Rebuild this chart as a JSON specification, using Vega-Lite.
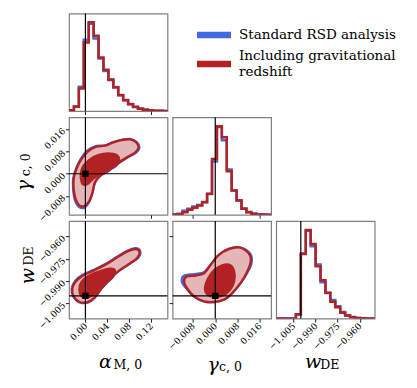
{
"$schema":"https://vega.github.io/schema/vega-lite/v6.json",
"background":"white",
"padding":{"left":13,"top":11.5,"right":5,"bottom":5},
"config":{
 "font":"DejaVu Serif",
 "view":{"stroke":"#808080","strokeWidth":1.2},
 "axis":{"labelFont":"DejaVu Serif","labelFontSize":9,"labelColor":"black","tickColor":"#222","tickSize":3.5,"tickWidth":1,"domain":false,"grid":false,"labelAngle":-45,"labelAlign":"right","labelBaseline":"middle","labelOverlap":false,"labelFlush":false,"titleFont":"DejaVu Serif","titleFontWeight":"normal","titleColor":"black","titleFontSize":19}
},
"datasets":{
 "legA":[{"s":"Standard RSD analysis"}],
 "legB":[{"s":"Including gravitational redshift"}],
 "tr":[{"a":0,"g":0,"w":-1}],
 "h1":[
  {"s":"b","i":0,"x":-0.030,"h":0},{"s":"b","i":1,"x":-0.030,"h":0.8},{"s":"b","i":2,"x":-0.021,"h":5.5},{"s":"b","i":3,"x":-0.012,"h":27.5},{"s":"b","i":4,"x":-0.003,"h":80.4},{"s":"b","i":5,"x":0.006,"h":98.5},{"s":"b","i":6,"x":0.015,"h":81.9},{"s":"b","i":7,"x":0.024,"h":59.2},{"s":"b","i":8,"x":0.033,"h":45.0},{"s":"b","i":9,"x":0.042,"h":35.8},{"s":"b","i":10,"x":0.051,"h":27.0},{"s":"b","i":11,"x":0.060,"h":18.0},{"s":"b","i":12,"x":0.069,"h":12.5},{"s":"b","i":13,"x":0.078,"h":8.0},{"s":"b","i":14,"x":0.087,"h":4.8},{"s":"b","i":15,"x":0.096,"h":2.8},{"s":"b","i":16,"x":0.105,"h":1.6},{"s":"b","i":17,"x":0.114,"h":0.9},{"s":"b","i":18,"x":0.123,"h":0.4},{"s":"b","i":19,"x":0.132,"h":0.2},{"s":"b","i":20,"x":0.141,"h":0.1},{"s":"b","i":21,"x":0.150,"h":0},
  {"s":"r","i":0,"x":-0.030,"h":0},{"s":"r","i":1,"x":-0.030,"h":0.8},{"s":"r","i":2,"x":-0.021,"h":4.9},{"s":"r","i":3,"x":-0.012,"h":25.3},{"s":"r","i":4,"x":-0.003,"h":77.4},{"s":"r","i":5,"x":0.006,"h":100},{"s":"r","i":6,"x":0.015,"h":84.9},{"s":"r","i":7,"x":0.024,"h":60.4},{"s":"r","i":8,"x":0.033,"h":46.4},{"s":"r","i":9,"x":0.042,"h":35.1},{"s":"r","i":10,"x":0.051,"h":26.4},{"s":"r","i":11,"x":0.060,"h":17.7},{"s":"r","i":12,"x":0.069,"h":12.1},{"s":"r","i":13,"x":0.078,"h":7.5},{"s":"r","i":14,"x":0.087,"h":4.5},{"s":"r","i":15,"x":0.096,"h":2.6},{"s":"r","i":16,"x":0.105,"h":1.5},{"s":"r","i":17,"x":0.114,"h":0.8},{"s":"r","i":18,"x":0.123,"h":0.4},{"s":"r","i":19,"x":0.132,"h":0.2},{"s":"r","i":20,"x":0.141,"h":0.1},{"s":"r","i":21,"x":0.150,"h":0}
 ],
 "h2":[
  {"s":"b","i":0,"x":-0.01533,"h":0},{"s":"b","i":1,"x":-0.01533,"h":0.4},{"s":"b","i":2,"x":-0.01356,"h":1.0},{"s":"b","i":3,"x":-0.01179,"h":4.5},{"s":"b","i":4,"x":-0.01002,"h":6.8},{"s":"b","i":5,"x":-0.00825,"h":9.5},{"s":"b","i":6,"x":-0.00648,"h":11},{"s":"b","i":7,"x":-0.00471,"h":14.5},{"s":"b","i":8,"x":-0.00294,"h":23.5},{"s":"b","i":9,"x":-0.00117,"h":60},{"s":"b","i":10,"x":0.0006,"h":99},{"s":"b","i":11,"x":0.00237,"h":84},{"s":"b","i":12,"x":0.00414,"h":51},{"s":"b","i":13,"x":0.00591,"h":27.5},{"s":"b","i":14,"x":0.00768,"h":16.5},{"s":"b","i":15,"x":0.00945,"h":7.2},{"s":"b","i":16,"x":0.01122,"h":3.2},{"s":"b","i":17,"x":0.01299,"h":1.2},{"s":"b","i":18,"x":0.01476,"h":0.5},{"s":"b","i":19,"x":0.01653,"h":0.2},{"s":"b","i":20,"x":0.0183,"h":0.1},{"s":"b","i":21,"x":0.02007,"h":0},
  {"s":"r","i":0,"x":-0.01533,"h":0},{"s":"r","i":1,"x":-0.01533,"h":0.4},{"s":"r","i":2,"x":-0.01356,"h":0.8},{"s":"r","i":3,"x":-0.01179,"h":3},{"s":"r","i":4,"x":-0.01002,"h":5.6},{"s":"r","i":5,"x":-0.00825,"h":8},{"s":"r","i":6,"x":-0.00648,"h":10.5},{"s":"r","i":7,"x":-0.00471,"h":14.3},{"s":"r","i":8,"x":-0.00294,"h":23.7},{"s":"r","i":9,"x":-0.00117,"h":63},{"s":"r","i":10,"x":0.0006,"h":100},{"s":"r","i":11,"x":0.00237,"h":87.6},{"s":"r","i":12,"x":0.00414,"h":49},{"s":"r","i":13,"x":0.00591,"h":27.4},{"s":"r","i":14,"x":0.00768,"h":16.2},{"s":"r","i":15,"x":0.00945,"h":6.8},{"s":"r","i":16,"x":0.01122,"h":3},{"s":"r","i":17,"x":0.01299,"h":1.1},{"s":"r","i":18,"x":0.01476,"h":0.4},{"s":"r","i":19,"x":0.01653,"h":0.2},{"s":"r","i":20,"x":0.0183,"h":0.1},{"s":"r","i":21,"x":0.02007,"h":0}
 ],
 "h3":[
  {"s":"b","i":0,"x":-1.0167,"h":0},{"s":"b","i":1,"x":-1.0167,"h":0},{"s":"b","i":2,"x":-1.01336,"h":0},{"s":"b","i":3,"x":-1.01002,"h":0},{"s":"b","i":4,"x":-1.00668,"h":0.2},{"s":"b","i":5,"x":-1.00334,"h":4.5},{"s":"b","i":6,"x":-1.0,"h":73.5},{"s":"b","i":7,"x":-0.99666,"h":99},{"s":"b","i":8,"x":-0.99332,"h":81.5},{"s":"b","i":9,"x":-0.98998,"h":61},{"s":"b","i":10,"x":-0.98664,"h":41},{"s":"b","i":11,"x":-0.9833,"h":29},{"s":"b","i":12,"x":-0.97996,"h":21},{"s":"b","i":13,"x":-0.97662,"h":14},{"s":"b","i":14,"x":-0.97328,"h":7.5},{"s":"b","i":15,"x":-0.96994,"h":3.8},{"s":"b","i":16,"x":-0.9666,"h":1.7},{"s":"b","i":17,"x":-0.96326,"h":0.8},{"s":"b","i":18,"x":-0.95992,"h":0.4},{"s":"b","i":19,"x":-0.95658,"h":0.2},{"s":"b","i":20,"x":-0.95324,"h":0.1},{"s":"b","i":21,"x":-0.9499,"h":0},
  {"s":"r","i":0,"x":-1.0167,"h":0},{"s":"r","i":1,"x":-1.0167,"h":0},{"s":"r","i":2,"x":-1.01336,"h":0},{"s":"r","i":3,"x":-1.01002,"h":0},{"s":"r","i":4,"x":-1.00668,"h":0.2},{"s":"r","i":5,"x":-1.00334,"h":4.9},{"s":"r","i":6,"x":-1.0,"h":73},{"s":"r","i":7,"x":-0.99666,"h":100},{"s":"r","i":8,"x":-0.99332,"h":84.3},{"s":"r","i":9,"x":-0.98998,"h":59},{"s":"r","i":10,"x":-0.98664,"h":43.3},{"s":"r","i":11,"x":-0.9833,"h":29.1},{"s":"r","i":12,"x":-0.97996,"h":19},{"s":"r","i":13,"x":-0.97662,"h":12.7},{"s":"r","i":14,"x":-0.97328,"h":6.7},{"s":"r","i":15,"x":-0.96994,"h":3.4},{"s":"r","i":16,"x":-0.9666,"h":1.5},{"s":"r","i":17,"x":-0.96326,"h":0.7},{"s":"r","i":18,"x":-0.95992,"h":0.4},{"s":"r","i":19,"x":-0.95658,"h":0.2},{"s":"r","i":20,"x":-0.95324,"h":0.1},{"s":"r","i":21,"x":-0.9499,"h":0}
 ],
 "c21":[
  {"s":"r","l":2,"i":0,"x":-0.0105,"y":-0.01146},{"s":"r","l":2,"i":1,"x":-0.0178,"y":-0.00907},{"s":"r","l":2,"i":2,"x":-0.0215,"y":-0.00549},{"s":"r","l":2,"i":3,"x":-0.0215,"y":-0.00191},{"s":"r","l":2,"i":4,"x":-0.0166,"y":0.00167},{"s":"r","l":2,"i":5,"x":-0.0074,"y":0.00525},{"s":"r","l":2,"i":6,"x":0.0049,"y":0.008},{"s":"r","l":2,"i":7,"x":0.0203,"y":0.00967},{"s":"r","l":2,"i":8,"x":0.0357,"y":0.01003},{"s":"r","l":2,"i":9,"x":0.0511,"y":0.01122},{"s":"r","l":2,"i":10,"x":0.0665,"y":0.01206},{"s":"r","l":2,"i":11,"x":0.0818,"y":0.0123},{"s":"r","l":2,"i":12,"x":0.0929,"y":0.01122},{"s":"r","l":2,"i":13,"x":0.0972,"y":0.00943},{"s":"r","l":2,"i":14,"x":0.0911,"y":0.00764},{"s":"r","l":2,"i":15,"x":0.0757,"y":0.00585},{"s":"r","l":2,"i":16,"x":0.0572,"y":0.00346},{"s":"r","l":2,"i":17,"x":0.0418,"y":0.00107},{"s":"r","l":2,"i":18,"x":0.0265,"y":-0.00072},{"s":"r","l":2,"i":19,"x":0.0172,"y":-0.0031},{"s":"r","l":2,"i":20,"x":0.0129,"y":-0.00669},{"s":"r","l":2,"i":21,"x":0.0068,"y":-0.00991},{"s":"r","l":2,"i":22,"x":-0.0012,"y":-0.01146},
  {"s":"r","l":1,"i":0,"x":-0.0074,"y":-0.0031},{"s":"r","l":1,"i":1,"x":-0.0092,"y":-0.00012},{"s":"r","l":1,"i":2,"x":-0.0043,"y":0.00287},{"s":"r","l":1,"i":3,"x":0.008,"y":0.00525},{"s":"r","l":1,"i":4,"x":0.0234,"y":0.0068},{"s":"r","l":1,"i":5,"x":0.0418,"y":0.0074},{"s":"r","l":1,"i":6,"x":0.0572,"y":0.0068},{"s":"r","l":1,"i":7,"x":0.0621,"y":0.0049},{"s":"r","l":1,"i":8,"x":0.056,"y":0.00287},{"s":"r","l":1,"i":9,"x":0.0418,"y":0.00131},{"s":"r","l":1,"i":10,"x":0.0265,"y":-0.00012},{"s":"r","l":1,"i":11,"x":0.0141,"y":-0.00191},{"s":"r","l":1,"i":12,"x":0.0049,"y":-0.0037},{"s":"r","l":1,"i":13,"x":-0.0031,"y":-0.00406},
  {"s":"b","l":2,"i":0,"x":-0.0105,"y":-0.012},{"s":"b","l":2,"i":1,"x":-0.019,"y":-0.0094},{"s":"b","l":2,"i":2,"x":-0.0222,"y":-0.0055},{"s":"b","l":2,"i":3,"x":-0.0222,"y":-0.0019},{"s":"b","l":2,"i":4,"x":-0.0172,"y":0.0017},{"s":"b","l":2,"i":5,"x":-0.008,"y":0.0054},{"s":"b","l":2,"i":6,"x":0.004,"y":0.0083},{"s":"b","l":2,"i":7,"x":0.0203,"y":0.0099},{"s":"b","l":2,"i":8,"x":0.0357,"y":0.0101},{"s":"b","l":2,"i":9,"x":0.0511,"y":0.0113},{"s":"b","l":2,"i":10,"x":0.0665,"y":0.0121},{"s":"b","l":2,"i":11,"x":0.082,"y":0.0124},{"s":"b","l":2,"i":12,"x":0.0935,"y":0.0113},{"s":"b","l":2,"i":13,"x":0.0985,"y":0.0094},{"s":"b","l":2,"i":14,"x":0.092,"y":0.0075},{"s":"b","l":2,"i":15,"x":0.076,"y":0.0058},{"s":"b","l":2,"i":16,"x":0.0575,"y":0.0034},{"s":"b","l":2,"i":17,"x":0.042,"y":0.001},{"s":"b","l":2,"i":18,"x":0.0265,"y":-0.0008},{"s":"b","l":2,"i":19,"x":0.0172,"y":-0.0032},{"s":"b","l":2,"i":20,"x":0.0125,"y":-0.0069},{"s":"b","l":2,"i":21,"x":0.006,"y":-0.0103},{"s":"b","l":2,"i":22,"x":-0.0012,"y":-0.012},
  {"s":"b","l":1,"i":0,"x":-0.008,"y":-0.0033},{"s":"b","l":1,"i":1,"x":-0.0098,"y":-0.0001},{"s":"b","l":1,"i":2,"x":-0.0047,"y":0.003},{"s":"b","l":1,"i":3,"x":0.0078,"y":0.0054},{"s":"b","l":1,"i":4,"x":0.0234,"y":0.0069},{"s":"b","l":1,"i":5,"x":0.0418,"y":0.0075},{"s":"b","l":1,"i":6,"x":0.0575,"y":0.0069},{"s":"b","l":1,"i":7,"x":0.0625,"y":0.0049},{"s":"b","l":1,"i":8,"x":0.0562,"y":0.0028},{"s":"b","l":1,"i":9,"x":0.0418,"y":0.0013},{"s":"b","l":1,"i":10,"x":0.0265,"y":-0.0001},{"s":"b","l":1,"i":11,"x":0.0141,"y":-0.002},{"s":"b","l":1,"i":12,"x":0.0049,"y":-0.0039},{"s":"b","l":1,"i":13,"x":-0.0033,"y":-0.0043}
 ],
 "c31":[
  {"s":"r","l":2,"i":0,"x":-0.0105,"y":-1.00413},{"s":"r","l":2,"i":1,"x":-0.0215,"y":-1.00035},{"s":"r","l":2,"i":2,"x":-0.024,"y":-0.99522},{"s":"r","l":2,"i":3,"x":-0.0178,"y":-0.99031},{"s":"r","l":2,"i":4,"x":-0.0043,"y":-0.9863},{"s":"r","l":2,"i":5,"x":0.0141,"y":-0.98318},{"s":"r","l":2,"i":6,"x":0.0357,"y":-0.97917},{"s":"r","l":2,"i":7,"x":0.0572,"y":-0.97427},{"s":"r","l":2,"i":8,"x":0.0757,"y":-0.97025},{"s":"r","l":2,"i":9,"x":0.091,"y":-0.96847},{"s":"r","l":2,"i":10,"x":0.099,"y":-0.97025},{"s":"r","l":2,"i":11,"x":0.0953,"y":-0.97427},{"s":"r","l":2,"i":12,"x":0.0818,"y":-0.97805},{"s":"r","l":2,"i":13,"x":0.0634,"y":-0.98251},{"s":"r","l":2,"i":14,"x":0.0449,"y":-0.98809},{"s":"r","l":2,"i":15,"x":0.0295,"y":-0.99477},{"s":"r","l":2,"i":16,"x":0.0172,"y":-1.00101},{"s":"r","l":2,"i":17,"x":0.0049,"y":-1.00413},
  {"s":"r","l":1,"i":0,"x":-0.0074,"y":-1.00035},{"s":"r","l":1,"i":1,"x":-0.0117,"y":-0.99589},{"s":"r","l":1,"i":2,"x":-0.0074,"y":-0.99031},{"s":"r","l":1,"i":3,"x":0.008,"y":-0.98586},{"s":"r","l":1,"i":4,"x":0.0265,"y":-0.98318},{"s":"r","l":1,"i":5,"x":0.0449,"y":-0.9814},{"s":"r","l":1,"i":6,"x":0.0541,"y":-0.98251},{"s":"r","l":1,"i":7,"x":0.051,"y":-0.98697},{"s":"r","l":1,"i":8,"x":0.0387,"y":-0.99143},{"s":"r","l":1,"i":9,"x":0.0265,"y":-0.99589},{"s":"r","l":1,"i":10,"x":0.0141,"y":-0.99968},{"s":"r","l":1,"i":11,"x":0.0018,"y":-1.00146},
  {"s":"b","l":2,"i":0,"x":-0.0105,"y":-1.0043},{"s":"b","l":2,"i":1,"x":-0.0222,"y":-1.00035},{"s":"b","l":2,"i":2,"x":-0.0248,"y":-0.99522},{"s":"b","l":2,"i":3,"x":-0.0185,"y":-0.9899},{"s":"b","l":2,"i":4,"x":-0.0048,"y":-0.9858},{"s":"b","l":2,"i":5,"x":0.0141,"y":-0.9828},{"s":"b","l":2,"i":6,"x":0.0357,"y":-0.9789},{"s":"b","l":2,"i":7,"x":0.0572,"y":-0.974},{"s":"b","l":2,"i":8,"x":0.0757,"y":-0.9699},{"s":"b","l":2,"i":9,"x":0.0915,"y":-0.968},{"s":"b","l":2,"i":10,"x":0.1,"y":-0.97},{"s":"b","l":2,"i":11,"x":0.096,"y":-0.9744},{"s":"b","l":2,"i":12,"x":0.0818,"y":-0.97805},{"s":"b","l":2,"i":13,"x":0.0634,"y":-0.98251},{"s":"b","l":2,"i":14,"x":0.0449,"y":-0.98809},{"s":"b","l":2,"i":15,"x":0.0295,"y":-0.99477},{"s":"b","l":2,"i":16,"x":0.0172,"y":-1.00101},{"s":"b","l":2,"i":17,"x":0.0049,"y":-1.0043},
  {"s":"b","l":1,"i":0,"x":-0.008,"y":-1.0005},{"s":"b","l":1,"i":1,"x":-0.0125,"y":-0.99589},{"s":"b","l":1,"i":2,"x":-0.008,"y":-0.99},{"s":"b","l":1,"i":3,"x":0.0078,"y":-0.9856},{"s":"b","l":1,"i":4,"x":0.0265,"y":-0.983},{"s":"b","l":1,"i":5,"x":0.0449,"y":-0.9812},{"s":"b","l":1,"i":6,"x":0.0545,"y":-0.9824},{"s":"b","l":1,"i":7,"x":0.0512,"y":-0.98697},{"s":"b","l":1,"i":8,"x":0.0387,"y":-0.99143},{"s":"b","l":1,"i":9,"x":0.0265,"y":-0.99589},{"s":"b","l":1,"i":10,"x":0.0141,"y":-0.99968},{"s":"b","l":1,"i":11,"x":0.0018,"y":-1.0016}
 ],
 "c32":[
  {"s":"r","l":2,"i":0,"x":-0.00406,"y":-1.00369},{"s":"r","l":2,"i":1,"x":-0.00764,"y":-1.00035},{"s":"r","l":2,"i":2,"x":-0.01003,"y":-0.99522},{"s":"r","l":2,"i":3,"x":-0.01122,"y":-0.99031},{"s":"r","l":2,"i":4,"x":-0.01027,"y":-0.98697},{"s":"r","l":2,"i":5,"x":-0.00704,"y":-0.9863},{"s":"r","l":2,"i":6,"x":-0.00406,"y":-0.98474},{"s":"r","l":2,"i":7,"x":-0.00167,"y":-0.97917},{"s":"r","l":2,"i":8,"x":0.00131,"y":-0.97248},{"s":"r","l":2,"i":9,"x":0.0049,"y":-0.96847},{"s":"r","l":2,"i":10,"x":0.00907,"y":-0.96758},{"s":"r","l":2,"i":11,"x":0.01242,"y":-0.97248},{"s":"r","l":2,"i":12,"x":0.01266,"y":-0.97805},{"s":"r","l":2,"i":13,"x":0.01122,"y":-0.98474},{"s":"r","l":2,"i":14,"x":0.00907,"y":-0.99143},{"s":"r","l":2,"i":15,"x":0.00609,"y":-0.99812},{"s":"r","l":2,"i":16,"x":0.0031,"y":-1.00257},{"s":"r","l":2,"i":17,"x":-0.00048,"y":-1.00413},
  {"s":"r","l":1,"i":0,"x":-0.00287,"y":-0.99923},{"s":"r","l":1,"i":1,"x":-0.00382,"y":-0.99477},{"s":"r","l":1,"i":2,"x":-0.00263,"y":-0.98809},{"s":"r","l":1,"i":3,"x":-0.00048,"y":-0.98251},{"s":"r","l":1,"i":4,"x":0.00251,"y":-0.97917},{"s":"r","l":1,"i":5,"x":0.00549,"y":-0.97917},{"s":"r","l":1,"i":6,"x":0.00693,"y":-0.98363},{"s":"r","l":1,"i":7,"x":0.00693,"y":-0.99031},{"s":"r","l":1,"i":8,"x":0.00549,"y":-0.99589},{"s":"r","l":1,"i":9,"x":0.0031,"y":-0.99968},{"s":"r","l":1,"i":10,"x":0.00012,"y":-1.00101},
  {"s":"b","l":2,"i":0,"x":-0.00406,"y":-1.00369},{"s":"b","l":2,"i":1,"x":-0.00764,"y":-1.00035},{"s":"b","l":2,"i":2,"x":-0.0103,"y":-0.99522},{"s":"b","l":2,"i":3,"x":-0.012,"y":-0.99031},{"s":"b","l":2,"i":4,"x":-0.011,"y":-0.9863},{"s":"b","l":2,"i":5,"x":-0.0074,"y":-0.9854},{"s":"b","l":2,"i":6,"x":-0.00406,"y":-0.9842},{"s":"b","l":2,"i":7,"x":-0.00167,"y":-0.97917},{"s":"b","l":2,"i":8,"x":0.00131,"y":-0.97248},{"s":"b","l":2,"i":9,"x":0.0049,"y":-0.96847},{"s":"b","l":2,"i":10,"x":0.00907,"y":-0.96758},{"s":"b","l":2,"i":11,"x":0.0126,"y":-0.9718},{"s":"b","l":2,"i":12,"x":0.013,"y":-0.97805},{"s":"b","l":2,"i":13,"x":0.0114,"y":-0.98474},{"s":"b","l":2,"i":14,"x":0.00907,"y":-0.99143},{"s":"b","l":2,"i":15,"x":0.00609,"y":-0.99812},{"s":"b","l":2,"i":16,"x":0.0031,"y":-1.00257},{"s":"b","l":2,"i":17,"x":-0.00048,"y":-1.00413},
  {"s":"b","l":1,"i":0,"x":-0.00287,"y":-0.99923},{"s":"b","l":1,"i":1,"x":-0.0042,"y":-0.995},{"s":"b","l":1,"i":2,"x":-0.0029,"y":-0.98809},{"s":"b","l":1,"i":3,"x":-0.0006,"y":-0.9823},{"s":"b","l":1,"i":4,"x":0.00251,"y":-0.979},{"s":"b","l":1,"i":5,"x":0.00549,"y":-0.979},{"s":"b","l":1,"i":6,"x":0.0071,"y":-0.98363},{"s":"b","l":1,"i":7,"x":0.0073,"y":-0.991},{"s":"b","l":1,"i":8,"x":0.0057,"y":-0.9962},{"s":"b","l":1,"i":9,"x":0.0031,"y":-0.9998},{"s":"b","l":1,"i":10,"x":0.00012,"y":-1.0011}
 ]
},
"columns":3,
"spacing":{"row":5.8,"column":4.6},
"bounds":"flush",
"concat":[
 {"width":98.5,"height":97.5,"data":{"name":"h1"},
  "layer":[
   {"transform":[{"filter":"datum.s=='b'"}],"mark":{"type":"line","interpolate":"step-after","color":"#4169E1","strokeWidth":2.5,"clip":true},
    "encoding":{"x":{"field":"x","type":"quantitative","scale":{"domain":[-0.03,0.15],"nice":false,"zero":false},"axis":{"values":[0,0.04,0.08,0.12],"labels":false,"title":null}},
     "y":{"field":"h","type":"quantitative","scale":{"domain":[0,110],"nice":false},"axis":null},"order":{"field":"i","type":"quantitative"}}},
   {"transform":[{"filter":"datum.s=='r'"}],"mark":{"type":"line","interpolate":"step-after","color":"#B22222","strokeWidth":2.5,"clip":true},
    "encoding":{"x":{"field":"x","type":"quantitative"},"y":{"field":"h","type":"quantitative"},"order":{"field":"i","type":"quantitative"}}},
   {"data":{"name":"tr"},"mark":{"type":"rule","color":"black","strokeWidth":1.2},"encoding":{"x":{"field":"a","type":"quantitative"}}}
  ]},
 {"width":98.5,"height":97.5,"view":{"stroke":null},"data":{"name":"legA"},
  "mark":{"type":"point","filled":true,"opacity":0},
  "encoding":{"color":{"field":"s","type":"nominal","scale":{"domain":["Standard RSD analysis"],"range":["#4169E1"]},
   "legend":{"orient":"none","legendX":136.5,"legendY":13,"title":null,"symbolType":"M-2,-0.38H2V0.38H-2Z","symbolSize":289,"symbolOpacity":1,"symbolStrokeWidth":0,"labelFont":"DejaVu Serif","labelFontSize":13.5,"labelColor":"black","labelOffset":16.5,"labelLimit":300}}}},
 {"width":98.5,"height":97.5,"view":{"stroke":null},"data":{"name":"legB"},
  "mark":{"type":"point","filled":true,"opacity":0},
  "encoding":{"fill":{"field":"s","type":"nominal","scale":{"domain":["Including gravitational redshift"],"range":["#B22222"]},
   "legend":{"orient":"none","legendX":136.5,"legendY":42,"title":null,"symbolType":"M-2,-0.38H2V0.38H-2Z","symbolSize":289,"symbolOpacity":1,"symbolStrokeWidth":0,"labelFont":"DejaVu Serif","labelFontSize":13.5,"labelColor":"black","labelOffset":16.5,"labelLimit":300,"labelBaseline":"line-bottom",
    "labelExpr":"['Including gravitational', 'redshift']"}}}},
 {"width":98.5,"height":97.5,"data":{"name":"c21"},
  "resolve":{"axis":{"y":"independent"}},
  "layer":[
   {"transform":[{"filter":"datum.s=='b'&&datum.l==2"}],"mark":{"type":"line","interpolate":"cardinal-closed","stroke":"#4169E1","strokeWidth":2.6,"clip":true},
    "encoding":{"x":{"field":"x","type":"quantitative","scale":{"domain":[-0.03,0.15],"nice":false,"zero":false},"axis":{"values":[0,0.04,0.08,0.12],"labels":false,"title":null}},
     "y":{"field":"y","type":"quantitative","scale":{"domain":[-0.0147,0.0202],"nice":false,"zero":false},"axis":{"values":[-0.008,0,0.008,0.016],"format":".3f","labelOverlap":false,"title":"γ","titleFontStyle":"italic","titleAngle":-90,"titleAlign":"center","titleBaseline":"middle","titleX":-45.7,"titleY":67.7}},"order":{"field":"i","type":"quantitative"}}},
   {"transform":[{"filter":"datum.s=='b'&&datum.l==1"}],"mark":{"type":"line","interpolate":"cardinal-closed","stroke":"#4169E1","strokeWidth":2.2,"clip":true},
    "encoding":{"x":{"field":"x","type":"quantitative"},"y":{"field":"y","type":"quantitative","axis":{"orient":"left","labels":false,"ticks":false,"domain":false,"title":"c, 0","titleFontSize":12.5,"titleAngle":-90,"titleAlign":"center","titleBaseline":"middle","titleX":-44,"titleY":47}},"order":{"field":"i","type":"quantitative"}}},
   {"transform":[{"filter":"datum.s=='r'&&datum.l==2"}],"mark":{"type":"line","interpolate":"cardinal-closed","stroke":"#B22222","fill":"#E4B6B8","strokeWidth":2.4,"clip":true},
    "encoding":{"x":{"field":"x","type":"quantitative"},"y":{"field":"y","type":"quantitative","axis":null},"order":{"field":"i","type":"quantitative"}}},
   {"transform":[{"filter":"datum.s=='r'&&datum.l==1"}],"mark":{"type":"line","interpolate":"cardinal-closed","stroke":"#B22222","fill":"#B22222","strokeWidth":1.6,"clip":true},
    "encoding":{"x":{"field":"x","type":"quantitative"},"y":{"field":"y","type":"quantitative","axis":null},"order":{"field":"i","type":"quantitative"}}},
   {"data":{"name":"tr"},"mark":{"type":"rule","color":"black","strokeWidth":1.2},"encoding":{"x":{"field":"a","type":"quantitative"}}},
   {"data":{"name":"tr"},"mark":{"type":"rule","color":"black","strokeWidth":1.2},"encoding":{"y":{"field":"g","type":"quantitative","axis":null}}},
   {"data":{"name":"tr"},"mark":{"type":"square","color":"black","opacity":1,"size":40},"encoding":{"x":{"field":"a","type":"quantitative"},"y":{"field":"g","type":"quantitative","axis":null}}}
  ]},
 {"width":98.5,"height":97.5,"data":{"name":"h2"},
  "layer":[
   {"transform":[{"filter":"datum.s=='b'"}],"mark":{"type":"line","interpolate":"step-after","color":"#4169E1","strokeWidth":2.5,"clip":true},
    "encoding":{"x":{"field":"x","type":"quantitative","scale":{"domain":[-0.01535,0.0201],"nice":false,"zero":false},"axis":{"values":[-0.008,0,0.008,0.016],"labels":false,"title":null}},
     "y":{"field":"h","type":"quantitative","scale":{"domain":[0,110],"nice":false},"axis":null},"order":{"field":"i","type":"quantitative"}}},
   {"transform":[{"filter":"datum.s=='r'"}],"mark":{"type":"line","interpolate":"step-after","color":"#B22222","strokeWidth":2.5,"clip":true},
    "encoding":{"x":{"field":"x","type":"quantitative"},"y":{"field":"h","type":"quantitative"},"order":{"field":"i","type":"quantitative"}}},
   {"data":{"name":"tr"},"mark":{"type":"rule","color":"black","strokeWidth":1.2},"encoding":{"x":{"field":"g","type":"quantitative"}}}
  ]},
 {"width":98.5,"height":97.5,"view":{"stroke":null},"data":{"name":"legA"},"mark":{"type":"point","opacity":0}},
 {"width":98.5,"height":97.5,"data":{"name":"c31"},
  "resolve":{"axis":{"x":"independent","y":"independent"}},
  "layer":[
   {"transform":[{"filter":"datum.s=='b'&&datum.l==2"}],"mark":{"type":"line","interpolate":"cardinal-closed","stroke":"#4169E1","strokeWidth":2.6,"clip":true},
    "encoding":{"x":{"field":"x","type":"quantitative","scale":{"domain":[-0.03,0.15],"nice":false,"zero":false},"axis":{"values":[0,0.04,0.08,0.12],"format":".2f","labelOverlap":false,"title":"α","titleFontStyle":"italic","titleAlign":"center","titleBaseline":"middle","titleX":36,"titleY":43}},
     "y":{"field":"y","type":"quantitative","scale":{"domain":[-1.0153,-0.9497],"nice":false,"zero":false},"axis":{"values":[-1.005,-0.99,-0.975,-0.96],"format":".3f","labelOverlap":false,"title":"w","titleFontStyle":"italic","titleAngle":-90,"titleAlign":"center","titleBaseline":"middle","titleX":-41.5,"titleY":54.4}},"order":{"field":"i","type":"quantitative"}}},
   {"transform":[{"filter":"datum.s=='b'&&datum.l==1"}],"mark":{"type":"line","interpolate":"cardinal-closed","stroke":"#4169E1","strokeWidth":2.2,"clip":true},
    "encoding":{"x":{"field":"x","type":"quantitative","axis":{"orient":"bottom","labels":false,"ticks":false,"domain":false,"title":"M, 0","titleFontSize":12.5,"titleAlign":"left","titleBaseline":"middle","titleX":44,"titleY":46}},
     "y":{"field":"y","type":"quantitative","axis":{"orient":"left","labels":false,"ticks":false,"domain":false,"title":"DE","titleFontSize":12.5,"titleAngle":-90,"titleAlign":"center","titleBaseline":"middle","titleX":-40.5,"titleY":34.4}},"order":{"field":"i","type":"quantitative"}}},
   {"transform":[{"filter":"datum.s=='r'&&datum.l==2"}],"mark":{"type":"line","interpolate":"cardinal-closed","stroke":"#B22222","fill":"#E4B6B8","strokeWidth":2.4,"clip":true},
    "encoding":{"x":{"field":"x","type":"quantitative","axis":null},"y":{"field":"y","type":"quantitative","axis":null},"order":{"field":"i","type":"quantitative"}}},
   {"transform":[{"filter":"datum.s=='r'&&datum.l==1"}],"mark":{"type":"line","interpolate":"cardinal-closed","stroke":"#B22222","fill":"#B22222","strokeWidth":1.6,"clip":true},
    "encoding":{"x":{"field":"x","type":"quantitative","axis":null},"y":{"field":"y","type":"quantitative","axis":null},"order":{"field":"i","type":"quantitative"}}},
   {"data":{"name":"tr"},"mark":{"type":"rule","color":"black","strokeWidth":1.2},"encoding":{"x":{"field":"a","type":"quantitative","axis":null}}},
   {"data":{"name":"tr"},"mark":{"type":"rule","color":"black","strokeWidth":1.2},"encoding":{"y":{"field":"w","type":"quantitative","axis":null}}},
   {"data":{"name":"tr"},"mark":{"type":"square","color":"black","opacity":1,"size":40},"encoding":{"x":{"field":"a","type":"quantitative","axis":null},"y":{"field":"w","type":"quantitative","axis":null}}}
  ]},
 {"width":98.5,"height":97.5,"data":{"name":"c32"},
  "resolve":{"axis":{"x":"independent"}},
  "layer":[
   {"transform":[{"filter":"datum.s=='b'&&datum.l==2"}],"mark":{"type":"line","interpolate":"cardinal-closed","stroke":"#4169E1","strokeWidth":2.6,"clip":true},
    "encoding":{"x":{"field":"x","type":"quantitative","scale":{"domain":[-0.01535,0.0201],"nice":false,"zero":false},"axis":{"values":[-0.008,0,0.008,0.016],"format":".3f","labelOverlap":false,"title":"γ","titleFontStyle":"italic","titleAlign":"center","titleBaseline":"middle","titleX":40,"titleY":45.5}},
     "y":{"field":"y","type":"quantitative","scale":{"domain":[-1.0153,-0.9497],"nice":false,"zero":false},"axis":{"values":[-1.005,-0.99,-0.975,-0.96],"labels":false,"title":null}},"order":{"field":"i","type":"quantitative"}}},
   {"transform":[{"filter":"datum.s=='b'&&datum.l==1"}],"mark":{"type":"line","interpolate":"cardinal-closed","stroke":"#4169E1","strokeWidth":2.2,"clip":true},
    "encoding":{"x":{"field":"x","type":"quantitative","axis":{"orient":"bottom","labels":false,"ticks":false,"domain":false,"title":"c, 0","titleFontSize":12.5,"titleAlign":"left","titleBaseline":"middle","titleX":46,"titleY":47.5}},"y":{"field":"y","type":"quantitative"},"order":{"field":"i","type":"quantitative"}}},
   {"transform":[{"filter":"datum.s=='r'&&datum.l==2"}],"mark":{"type":"line","interpolate":"cardinal-closed","stroke":"#B22222","fill":"#E4B6B8","strokeWidth":2.4,"clip":true},
    "encoding":{"x":{"field":"x","type":"quantitative","axis":null},"y":{"field":"y","type":"quantitative"},"order":{"field":"i","type":"quantitative"}}},
   {"transform":[{"filter":"datum.s=='r'&&datum.l==1"}],"mark":{"type":"line","interpolate":"cardinal-closed","stroke":"#B22222","fill":"#B22222","strokeWidth":1.6,"clip":true},
    "encoding":{"x":{"field":"x","type":"quantitative","axis":null},"y":{"field":"y","type":"quantitative"},"order":{"field":"i","type":"quantitative"}}},
   {"data":{"name":"tr"},"mark":{"type":"rule","color":"black","strokeWidth":1.2},"encoding":{"x":{"field":"g","type":"quantitative","axis":null}}},
   {"data":{"name":"tr"},"mark":{"type":"rule","color":"black","strokeWidth":1.2},"encoding":{"y":{"field":"w","type":"quantitative"}}},
   {"data":{"name":"tr"},"mark":{"type":"square","color":"black","opacity":1,"size":40},"encoding":{"x":{"field":"g","type":"quantitative","axis":null},"y":{"field":"w","type":"quantitative"}}}
  ]},
 {"width":98.5,"height":97.5,"data":{"name":"h3"},
  "resolve":{"axis":{"x":"independent"}},
  "layer":[
   {"transform":[{"filter":"datum.s=='b'"}],"mark":{"type":"line","interpolate":"step-after","color":"#4169E1","strokeWidth":2.5,"clip":true},
    "encoding":{"x":{"field":"x","type":"quantitative","scale":{"domain":[-1.0167,-0.9499],"nice":false,"zero":false},"axis":{"values":[-1.005,-0.99,-0.975,-0.96],"format":".3f","labelOverlap":false,"title":"w","titleFontStyle":"italic","titleAlign":"center","titleBaseline":"middle","titleX":36.5,"titleY":43}},
     "y":{"field":"h","type":"quantitative","scale":{"domain":[0,110],"nice":false},"axis":null},"order":{"field":"i","type":"quantitative"}}},
   {"transform":[{"filter":"datum.s=='r'"}],"mark":{"type":"line","interpolate":"step-after","color":"#B22222","strokeWidth":2.5,"clip":true},
    "encoding":{"x":{"field":"x","type":"quantitative","axis":{"orient":"bottom","labels":false,"ticks":false,"domain":false,"title":"DE","titleFontSize":12.5,"titleAlign":"left","titleBaseline":"middle","titleX":43.5,"titleY":45.5}},"y":{"field":"h","type":"quantitative","axis":null},"order":{"field":"i","type":"quantitative"}}},
   {"data":{"name":"tr"},"mark":{"type":"rule","color":"black","strokeWidth":1.2},"encoding":{"x":{"field":"w","type":"quantitative","axis":null}}}
  ]}
]
}
